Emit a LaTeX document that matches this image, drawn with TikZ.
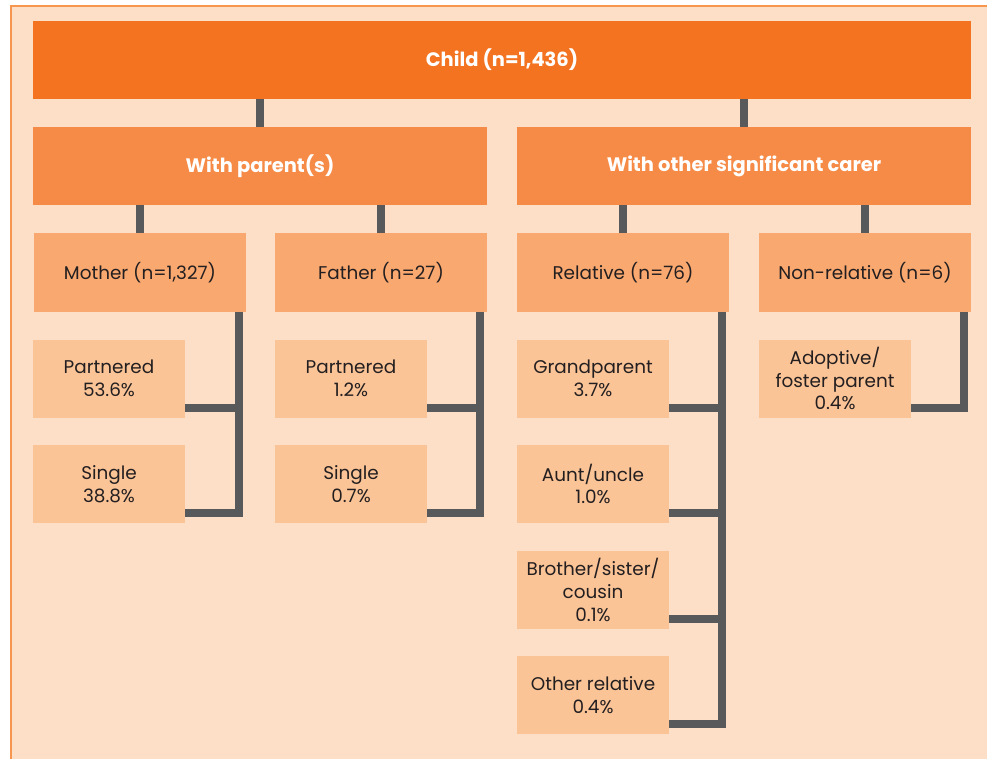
\documentclass[tikz,border=0pt]{standalone}
\usepackage{fontspec}
\setmainfont{Poppins}
\usepackage{tikz}
\usetikzlibrary{calc}
\definecolor{pageback}{HTML}{FCDFC6}
\definecolor{frameline}{HTML}{F7964F}
\definecolor{childorange}{HTML}{F37321}
\definecolor{grouporange}{HTML}{F68B47}
\definecolor{carerorange}{HTML}{F9A870}
\definecolor{shareorange}{HTML}{FBC497}
\definecolor{linkgrey}{HTML}{58595B}
\definecolor{textdark}{HTML}{231F20}
\tikzset{
  box/.style={inner sep=0pt,align=center,text=textdark,
    font=\fontsize{13.8}{17}\selectfont},
  childbox/.style={box,fill=childorange,minimum width=703.5pt,minimum height=58.5pt,
    text=white,font=\fontsize{14.6}{17}\selectfont\bfseries},
  groupbox/.style={childbox,fill=grouporange,minimum width=340.5pt},
  carerbox/.style={box,fill=carerorange,minimum width=159pt,minimum height=59pt},
  sharebox/.style={box,fill=shareorange,minimum width=114pt,minimum height=58.5pt},
  link/.style={linkgrey,line width=6pt,line join=miter}
}

\begin{document}
\begin{tikzpicture}[x=0.75pt,y=-0.75pt]
  \useasboundingbox (0,0) rectangle (987,759);
  % panel
  \fill[pageback] (11,6) rectangle (987,759);
  \draw[frameline,line width=1.5pt] (11,759) -- (11,6) -- (987,6);
  % top levels
  \node[childbox] (child) at (502,60) {Child (n=1,436)};
  \node[groupbox] (parents) at (260,166) {With parent(s)};
  \node[groupbox] (carer) at (744,166) {With other significant carer};
  % who the child lives with
  \node[carerbox] (mother) at (140,272.5) {Mother (n=1,327)};
  \node[carerbox] (father) at (381,272.5) {Father (n=27)};
  \node[carerbox] (relative) at (623,272.5) {Relative (n=76)};
  \node[carerbox] (nonrel) at (865,272.5) {Non-relative (n=6)};
  % shares
  \node[sharebox] (mpart) at (109,378.5) {Partnered\\53.6\%};
  \node[sharebox] (msingle) at (109,484) {Single\\38.8\%};
  \node[sharebox] (fpart) at (351,378.5) {Partnered\\1.2\%};
  \node[sharebox] (fsingle) at (351,484) {Single\\0.7\%};
  \node[sharebox] (grand) at (593,378.5) {Grandparent\\3.7\%};
  \node[sharebox] (aunt) at (593,484) {Aunt/uncle\\1.0\%};
  \node[sharebox] (sibling) at (593,590) {Brother/sister/\\cousin\\0.1\%};
  \node[sharebox] (otherrel) at (593,695) {Other relative\\0.4\%};
  \node[sharebox] (foster) at (835,378.5) {Adoptive/\\foster parent\\0.4\%};
  % connectors
  \draw[link] (child.south -| parents) -- (parents.north);
  \draw[link] (child.south -| carer) -- (carer.north);
  \foreach \g/\c in {parents/mother,parents/father,carer/relative,carer/nonrel}
    \draw[link] (\g.south -| \c) -- (\c.north);
  \foreach \p/\k in {mother/mpart,mother/msingle,father/fpart,father/fsingle,
      relative/grand,relative/aunt,relative/sibling,relative/otherrel,nonrel/foster}
    \draw[link] ([xshift=-5.5pt]\p.south east) |- ([yshift=7.5pt]\k.south east);
\end{tikzpicture}
\end{document}
